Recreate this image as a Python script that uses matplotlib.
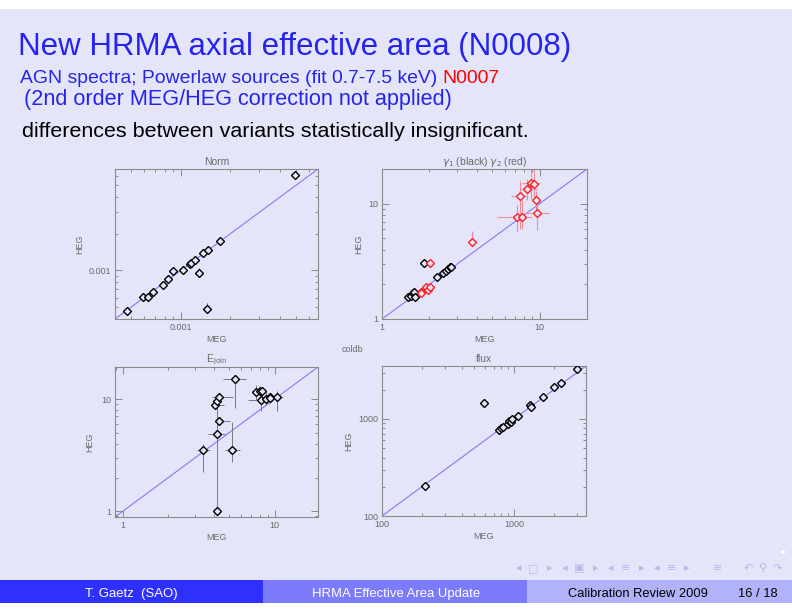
import numpy as np
import matplotlib
matplotlib.use('Agg')
import matplotlib.pyplot as plt
from matplotlib.patches import Rectangle
from matplotlib.ticker import LogLocator, FixedLocator, NullFormatter, FuncFormatter

# ---------------- data ----------------
norm_meg = [4.75e-4, 5.94e-4, 6.37e-4, 6.84e-4, 7.85e-4, 8.38e-4, 8.99e-4, 1.028e-3, 1.14e-3,
            1.15e-3, 1.22e-3, 1.29e-3, 1.365e-3, 1.46e-3, 1.73e-3, 1.45e-3, 4.92e-3]
norm_heg = [4.64e-4, 6.08e-4, 6.08e-4, 6.6e-4, 7.62e-4, 8.49e-4, 9.87e-4, 1.0e-3, 1.127e-3,
            1.15e-3, 1.23e-3, 9.57e-4, 1.38e-3, 1.47e-3, 1.74e-3, 4.82e-4, 6.09e-3]
norm_heg_err = [0, 0, 0, 0, 0, 0, 0, 0, 0, 0, 0, 1.0e-4, 0, 0, 0, 5.5e-5, 2.0e-4]

g1_meg = [1.46, 1.52, 1.58, 1.59, 1.62, 1.85, 2.24, 2.45, 2.54, 2.63, 2.70, 2.74]
g1_heg = [1.56, 1.59, 1.67, 1.72, 1.56, 3.09, 2.32, 2.52, 2.62, 2.72, 2.80, 2.83]

g2_meg = [1.78, 1.78, 1.90, 1.96, 2.03, 2.03, 3.73, 7.17, 7.46, 7.76, 8.30, 8.81, 9.25, 9.43, 9.61]
g2_heg = [1.72, 1.67, 1.88, 1.80, 1.90, 3.09, 4.69, 7.72, 11.57, 7.72, 13.5, 15.1, 14.9, 10.69, 8.36]
g2_meg_lo = [0.05, 0.05, 0.05, 0.05, 0.05, 0.05, 0.0, 1.8, 0.9, 0.5, 0.77, 1.1, 0.6, 0.5, 1.7]
g2_meg_hi = [0.05, 0.05, 0.05, 0.05, 0.05, 0.05, 0.0, 1.8, 0.9, 0.5, 1.31, 1.3, 0.6, 0.5, 1.8]
g2_heg_lo = [0.05, 0.05, 0.05, 0.05, 0.05, 0.1, 0.45, 2.0, 5.5, 1.64, 2.8, 4.1, 4.0, 2.3, 2.5]
g2_heg_hi = [0.05, 0.05, 0.05, 0.05, 0.05, 0.1, 1.10, 1.95, 4.3, 3.0, 2.9, 5.0, 5.0, 2.3, 1.6]

ej_meg = [3.38, 4.17, 4.17, 4.30, 4.08, 4.17, 4.30, 5.47, 5.25, 7.59, 8.05, 8.30, 8.10, 8.73, 9.27, 9.38, 10.31]
ej_heg = [3.51, 1.00, 4.88, 6.39, 8.77, 9.66, 10.35, 15.0, 3.51, 11.56, 11.7, 11.7, 9.86, 10.0, 10.42, 10.25, 10.35]
ej_meg_lo = [0.28, 0.0, 0.50, 0.22, 0.14, 0.1, 0.45, 0.88, 0.55, 0.3, 0.3, 0.3, 1.40, 0.3, 0.4, 0.3, 1.04]
ej_meg_hi = [0.37, 0.0, 0.53, 0.77, 0.55, 0.1, 1.03, 1.05, 0.70, 0.3, 0.3, 0.3, 1.17, 0.3, 0.4, 0.3, 1.00]
ej_heg_lo = [1.27, 0.1, 0.3, 0.3, 0.3, 0.3, 0.5, 6.7, 0.76, 1.7, 1.0, 1.0, 2.1, 1.2, 1.0, 1.0, 2.6]
ej_heg_hi = [0.43, 9.2, 0.3, 0.3, 0.3, 0.3, 0.6, 0.0, 2.70, 1.84, 1.0, 1.0, 1.8, 1.5, 1.0, 1.0, 1.35]

fx_meg = [213, 595, 774, 802, 830, 906, 907, 944, 971, 1079, 1323, 1338, 1641, 1991, 2260, 2972]
fx_heg = [202, 1472, 773, 798, 817, 879, 953, 929, 991, 1059, 1403, 1336, 1679, 2138, 2335, 3251]

norm_lim = [4.0e-4, 6.8e-3]
gam_lim = [1.0, 20.0]
ej_lim = [0.89, 19.3]
fx_lim = [100.0, 3500.0]

panel_titles = ['Norm', r'$\gamma_1$ (black) $\gamma_2$ (red)', r'E$_{\rm join}$', 'flux']

# ---------------- figure ----------------
BG = '#E5E5F9'
AXC = '#8a8a8a'
TXT = '#6a6a6a'
LINEC = '#7c7cf6'
W, H = 792, 612
plt.rcParams['font.family'] = ['Liberation Sans', 'DejaVu Sans']
plt.rcParams['mathtext.fontset'] = 'dejavusans'

fig = plt.figure(figsize=(W / 100, H / 100), dpi=100)
fig.patch.set_facecolor(BG)
renderer = fig.canvas.get_renderer()


def frect(x0, y0, x1, y1, color):
    fig.add_artist(Rectangle((x0 / W, 1 - y1 / H), (x1 - x0) / W, (y1 - y0) / H,
                             transform=fig.transFigure, facecolor=color, edgecolor='none', zorder=0))


# white strips top / bottom
frect(0, 0, W, 9, 'white')
frect(0, 603, W, H, 'white')
# footer bars
frect(0, 580, 263, 603, '#3030FC')
frect(263, 580, 527, 603, '#7B7BFC')
frect(527, 580, W, 603, '#B2B2FA')


def fit_text(x0, x1, ybase, s, color, size0=12, **kw):
    t = fig.text(x0 / W, 1 - ybase / H, s, color=color, fontsize=size0, va='baseline', ha='left', **kw)
    bb = t.get_window_extent(renderer)
    t.set_fontsize(size0 * (x1 - x0) / bb.width)
    return t


BLUE = '#2424EE'
fit_text(18, 570, 55, 'New HRMA axial effective area (N0008)', BLUE, 22)
# line 1 (two colours)
full = 'AGN spectra; Powerlaw sources (fit 0.7-7.5 keV) N0007'
tt = fit_text(20, 500, 83, full, BLUE, 12)
fs = tt.get_fontsize()
tt.set_text('AGN spectra; Powerlaw sources (fit 0.7-7.5 keV) ')
wpart = tt.get_window_extent(renderer).width
tt2 = fig.text((20 + wpart) / W, 1 - 83 / H, 'N0007', color='#FF0000', fontsize=fs, va='baseline')
fit_text(24, 453, 105, '(2nd order MEG/HEG correction not applied)', BLUE, 12)
fit_text(22, 533, 137, 'differences between variants statistically insignificant.', 'black', 14)

# footer texts
fit_text(85, 178, 597, 'T. Gaetz  (SAO)', 'white', 9)
fit_text(312, 480, 597, 'HRMA Effective Area Update', 'white', 9)
tc = fit_text(568, 708, 597, 'Calibration Review 2009', 'black', 9)
fig.text(738 / W, 1 - 597 / H, '16 / 18', color='black', fontsize=tc.get_fontsize(), va='baseline')

# navigation symbols
nav = ['◂', '□', '▸', '◂', '▣', '▸', '◂', '≡', '▸', '◂', '≡', '▸', '≡', '↶', '⚲', '↷']
navx = [519, 533, 550, 565, 579, 596, 611, 626, 642, 657, 672, 687, 718, 748, 763, 777]
for s, x in zip(nav, navx):
    fig.text(x / W, 1 - 568 / H, s, color='#B8B8EC', fontsize=8, ha='center', va='center',
             family=['DejaVu Sans'])
fig.add_artist(plt.Circle((783 / W, 1 - 552 / H), 1.5 / W, transform=fig.transFigure,
                          color='white', zorder=3))

fig.text(342 / W, 1 - 349 / H, 'coldb', color=TXT, fontsize=6.5, va='center', ha='left')


def px_axes(x0, y0, x1, y1):
    return fig.add_axes([x0 / W, 1 - y1 / H, (x1 - x0) / W, (y1 - y0) / H])


def fmt(v, pos):
    return '%g' % v


def style(ax, lim, major, title, ylab_px, x0, width):
    ax.set_xscale('log')
    ax.set_yscale('log')
    ax.set_xlim(lim)
    ax.set_ylim(lim)
    ax.set_facecolor('none')
    for s in ax.spines.values():
        s.set_color(AXC)
        s.set_linewidth(0.8)
    for axis in (ax.xaxis, ax.yaxis):
        axis.set_major_locator(FixedLocator(major))
        axis.set_major_formatter(FuncFormatter(fmt))
        axis.set_minor_locator(LogLocator(base=10, subs=np.arange(2, 10), numticks=30))
        axis.set_minor_formatter(NullFormatter())
    ax.tick_params(which='both', direction='in', top=True, right=True, colors=AXC,
                   labelcolor=TXT, labelsize=6.5, width=0.7)
    ax.tick_params(which='major', length=5, pad=3)
    ax.tick_params(which='minor', length=2.5)
    ax.set_xlabel('MEG', fontsize=6.5, color=TXT, labelpad=2)
    ax.set_ylabel('HEG', fontsize=6.5, color=TXT)
    ax.yaxis.set_label_coords((ylab_px + 3 - x0) / width, 0.5)
    ax.set_title(title, fontsize=7.5, color=TXT, pad=3)
    ax.plot(lim, lim, color=LINEC, lw=0.8, zorder=1)


mk = dict(marker='D', ms=3.6, mfc=BG, linestyle='none', zorder=3)

ax1 = px_axes(115, 169, 318, 319)
style(ax1, norm_lim, [1e-3], panel_titles[0], 81, 115, 203)
ax1.errorbar(norm_meg, norm_heg, yerr=[np.zeros(len(norm_heg_err)), norm_heg_err],
             fmt='none', ecolor='#505050', elinewidth=0.7, zorder=2)
ax1.plot(norm_meg, norm_heg, mec='black', mew=1.0, **mk)

ax2 = px_axes(382, 169, 587, 319)
style(ax2, gam_lim, [1, 10], panel_titles[1], 360, 382, 205)
ax2.errorbar(g2_meg, g2_heg, xerr=[g2_meg_lo, g2_meg_hi], yerr=[g2_heg_lo, g2_heg_hi],
             fmt='none', ecolor='#F08C96', elinewidth=0.8, zorder=2)
ax2.plot(g1_meg, g1_heg, mec='black', mew=1.0, **mk)
ax2.plot(g2_meg, g2_heg, mec='#FF2020', mew=1.0, **mk)

ax3 = px_axes(115, 367, 318, 517)
style(ax3, ej_lim, [1, 10], panel_titles[2], 91, 115, 203)
ax3.errorbar(ej_meg, ej_heg, xerr=[ej_meg_lo, ej_meg_hi], yerr=[ej_heg_lo, ej_heg_hi],
             fmt='none', ecolor='#7a7a7a', elinewidth=0.7, zorder=2)
ax3.plot(ej_meg, ej_heg, mec='black', mew=1.0, **mk)

ax4 = px_axes(382, 366, 586, 516)
style(ax4, fx_lim, [100, 1000], panel_titles[3], 350, 382, 204)
ax4.plot(fx_meg, fx_heg, mec='black', mew=1.0, **mk)

fig.savefig('out.png', dpi=100, facecolor=fig.get_facecolor())
